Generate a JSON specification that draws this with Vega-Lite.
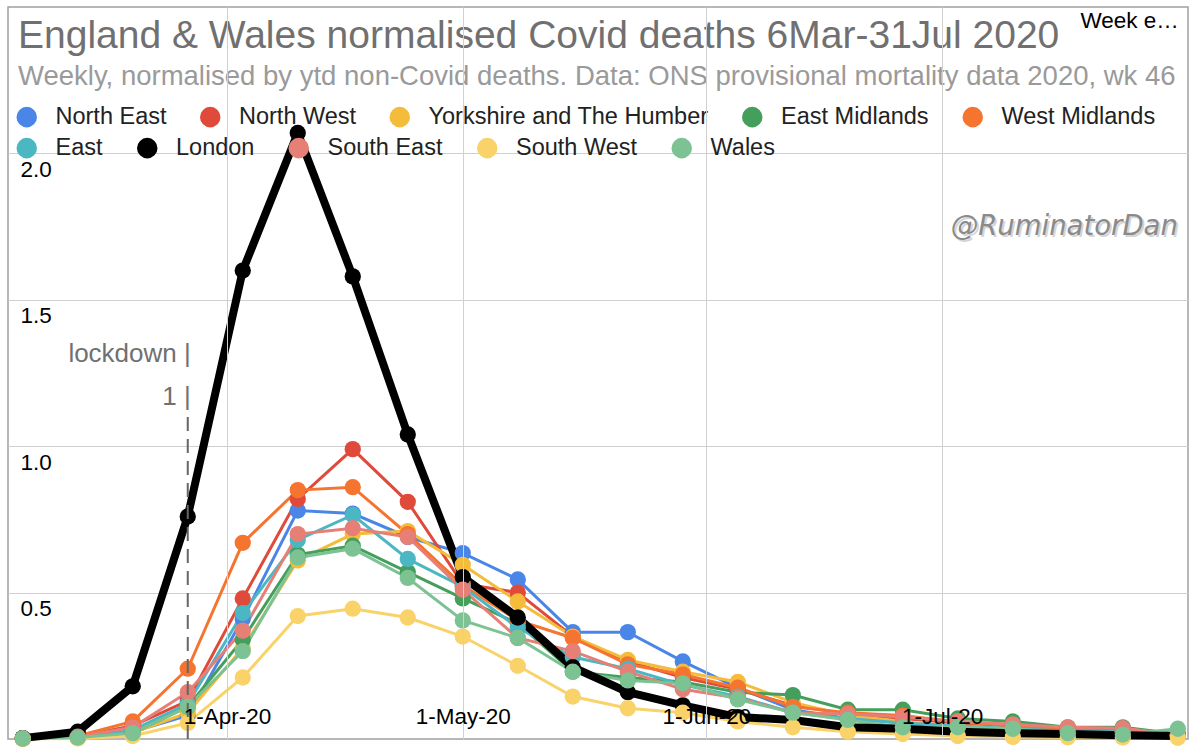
{
  "$schema": "https://vega.github.io/schema/vega-lite/v6.json",
  "width": 1180,
  "height": 732,
  "autosize": "none",
  "padding": {"left": 8, "top": 7, "right": 12, "bottom": 8},
  "background": "white",
  "config": {
    "font": "Liberation Sans",
    "view": {"stroke": "#a0a0a0", "strokeWidth": 1.5},
    "axis": {"gridColor": "#d0d0d0", "gridWidth": 1, "domain": false, "ticks": false, "tickSize": 0}
  },
  "title": {
    "text": "England & Wales normalised Covid deaths 6Mar-31Jul 2020",
    "subtitle": "Weekly, normalised by ytd non-Covid deaths. Data: ONS provisional mortality data 2020, wk 46",
    "anchor": "start",
    "frame": "group",
    "offset": -83,
    "dx": 10,
    "fontSize": 39,
    "fontWeight": "normal",
    "color": "#707070",
    "subtitleFontSize": 27.5,
    "subtitleColor": "#9a9a9a",
    "subtitlePadding": 7
  },
  "data": {
    "values": [
      {"region":"North East","week":"2020-03-06","value":0.002},{"region":"North East","week":"2020-03-13","value":0.005},{"region":"North East","week":"2020-03-20","value":0.025},{"region":"North East","week":"2020-03-27","value":0.08},{"region":"North East","week":"2020-04-03","value":0.41},{"region":"North East","week":"2020-04-10","value":0.78},{"region":"North East","week":"2020-04-17","value":0.77},{"region":"North East","week":"2020-04-24","value":0.69},{"region":"North East","week":"2020-05-01","value":0.635},{"region":"North East","week":"2020-05-08","value":0.545},{"region":"North East","week":"2020-05-15","value":0.365},{"region":"North East","week":"2020-05-22","value":0.365},{"region":"North East","week":"2020-05-29","value":0.265},{"region":"North East","week":"2020-06-05","value":0.175},{"region":"North East","week":"2020-06-12","value":0.1},{"region":"North East","week":"2020-06-19","value":0.07},{"region":"North East","week":"2020-06-26","value":0.055},{"region":"North East","week":"2020-07-03","value":0.04},{"region":"North East","week":"2020-07-10","value":0.035},{"region":"North East","week":"2020-07-17","value":0.027},{"region":"North East","week":"2020-07-24","value":0.025},{"region":"North East","week":"2020-07-31","value":0.012},
      {"region":"North West","week":"2020-03-06","value":0.002},{"region":"North West","week":"2020-03-13","value":0.008},{"region":"North West","week":"2020-03-20","value":0.045},{"region":"North West","week":"2020-03-27","value":0.13},{"region":"North West","week":"2020-04-03","value":0.48},{"region":"North West","week":"2020-04-10","value":0.82},{"region":"North West","week":"2020-04-17","value":0.99},{"region":"North West","week":"2020-04-24","value":0.81},{"region":"North West","week":"2020-05-01","value":0.53},{"region":"North West","week":"2020-05-08","value":0.5},{"region":"North West","week":"2020-05-15","value":0.35},{"region":"North West","week":"2020-05-22","value":0.265},{"region":"North West","week":"2020-05-29","value":0.21},{"region":"North West","week":"2020-06-05","value":0.17},{"region":"North West","week":"2020-06-12","value":0.115},{"region":"North West","week":"2020-06-19","value":0.085},{"region":"North West","week":"2020-06-26","value":0.07},{"region":"North West","week":"2020-07-03","value":0.055},{"region":"North West","week":"2020-07-10","value":0.045},{"region":"North West","week":"2020-07-17","value":0.035},{"region":"North West","week":"2020-07-24","value":0.03},{"region":"North West","week":"2020-07-31","value":0.012},
      {"region":"Yorkshire and The Humber","week":"2020-03-06","value":0.002},{"region":"Yorkshire and The Humber","week":"2020-03-13","value":0.005},{"region":"Yorkshire and The Humber","week":"2020-03-20","value":0.02},{"region":"Yorkshire and The Humber","week":"2020-03-27","value":0.09},{"region":"Yorkshire and The Humber","week":"2020-04-03","value":0.31},{"region":"Yorkshire and The Humber","week":"2020-04-10","value":0.61},{"region":"Yorkshire and The Humber","week":"2020-04-17","value":0.7},{"region":"Yorkshire and The Humber","week":"2020-04-24","value":0.71},{"region":"Yorkshire and The Humber","week":"2020-05-01","value":0.595},{"region":"Yorkshire and The Humber","week":"2020-05-08","value":0.47},{"region":"Yorkshire and The Humber","week":"2020-05-15","value":0.35},{"region":"Yorkshire and The Humber","week":"2020-05-22","value":0.27},{"region":"Yorkshire and The Humber","week":"2020-05-29","value":0.23},{"region":"Yorkshire and The Humber","week":"2020-06-05","value":0.195},{"region":"Yorkshire and The Humber","week":"2020-06-12","value":0.125},{"region":"Yorkshire and The Humber","week":"2020-06-19","value":0.08},{"region":"Yorkshire and The Humber","week":"2020-06-26","value":0.06},{"region":"Yorkshire and The Humber","week":"2020-07-03","value":0.04},{"region":"Yorkshire and The Humber","week":"2020-07-10","value":0.035},{"region":"Yorkshire and The Humber","week":"2020-07-17","value":0.027},{"region":"Yorkshire and The Humber","week":"2020-07-24","value":0.025},{"region":"Yorkshire and The Humber","week":"2020-07-31","value":0.01},
      {"region":"East Midlands","week":"2020-03-06","value":0.002},{"region":"East Midlands","week":"2020-03-13","value":0.005},{"region":"East Midlands","week":"2020-03-20","value":0.02},{"region":"East Midlands","week":"2020-03-27","value":0.11},{"region":"East Midlands","week":"2020-04-03","value":0.34},{"region":"East Midlands","week":"2020-04-10","value":0.63},{"region":"East Midlands","week":"2020-04-17","value":0.66},{"region":"East Midlands","week":"2020-04-24","value":0.57},{"region":"East Midlands","week":"2020-05-01","value":0.48},{"region":"East Midlands","week":"2020-05-08","value":0.395},{"region":"East Midlands","week":"2020-05-15","value":0.23},{"region":"East Midlands","week":"2020-05-22","value":0.21},{"region":"East Midlands","week":"2020-05-29","value":0.195},{"region":"East Midlands","week":"2020-06-05","value":0.16},{"region":"East Midlands","week":"2020-06-12","value":0.15},{"region":"East Midlands","week":"2020-06-19","value":0.1},{"region":"East Midlands","week":"2020-06-26","value":0.1},{"region":"East Midlands","week":"2020-07-03","value":0.07},{"region":"East Midlands","week":"2020-07-10","value":0.06},{"region":"East Midlands","week":"2020-07-17","value":0.04},{"region":"East Midlands","week":"2020-07-24","value":0.04},{"region":"East Midlands","week":"2020-07-31","value":0.017},
      {"region":"West Midlands","week":"2020-03-06","value":0.002},{"region":"West Midlands","week":"2020-03-13","value":0.01},{"region":"West Midlands","week":"2020-03-20","value":0.06},{"region":"West Midlands","week":"2020-03-27","value":0.24},{"region":"West Midlands","week":"2020-04-03","value":0.67},{"region":"West Midlands","week":"2020-04-10","value":0.85},{"region":"West Midlands","week":"2020-04-17","value":0.86},{"region":"West Midlands","week":"2020-04-24","value":0.7},{"region":"West Midlands","week":"2020-05-01","value":0.525},{"region":"West Midlands","week":"2020-05-08","value":0.405},{"region":"West Midlands","week":"2020-05-15","value":0.345},{"region":"West Midlands","week":"2020-05-22","value":0.255},{"region":"West Midlands","week":"2020-05-29","value":0.22},{"region":"West Midlands","week":"2020-06-05","value":0.175},{"region":"West Midlands","week":"2020-06-12","value":0.11},{"region":"West Midlands","week":"2020-06-19","value":0.09},{"region":"West Midlands","week":"2020-06-26","value":0.08},{"region":"West Midlands","week":"2020-07-03","value":0.058},{"region":"West Midlands","week":"2020-07-10","value":0.045},{"region":"West Midlands","week":"2020-07-17","value":0.03},{"region":"West Midlands","week":"2020-07-24","value":0.027},{"region":"West Midlands","week":"2020-07-31","value":0.012},
      {"region":"East","week":"2020-03-06","value":0.002},{"region":"East","week":"2020-03-13","value":0.005},{"region":"East","week":"2020-03-20","value":0.03},{"region":"East","week":"2020-03-27","value":0.12},{"region":"East","week":"2020-04-03","value":0.43},{"region":"East","week":"2020-04-10","value":0.68},{"region":"East","week":"2020-04-17","value":0.765},{"region":"East","week":"2020-04-24","value":0.615},{"region":"East","week":"2020-05-01","value":0.52},{"region":"East","week":"2020-05-08","value":0.38},{"region":"East","week":"2020-05-15","value":0.28},{"region":"East","week":"2020-05-22","value":0.24},{"region":"East","week":"2020-05-29","value":0.185},{"region":"East","week":"2020-06-05","value":0.145},{"region":"East","week":"2020-06-12","value":0.09},{"region":"East","week":"2020-06-19","value":0.07},{"region":"East","week":"2020-06-26","value":0.055},{"region":"East","week":"2020-07-03","value":0.045},{"region":"East","week":"2020-07-10","value":0.035},{"region":"East","week":"2020-07-17","value":0.027},{"region":"East","week":"2020-07-24","value":0.025},{"region":"East","week":"2020-07-31","value":0.012},
      {"region":"London","week":"2020-03-06","value":0.003},{"region":"London","week":"2020-03-13","value":0.025},{"region":"London","week":"2020-03-20","value":0.18},{"region":"London","week":"2020-03-27","value":0.76},{"region":"London","week":"2020-04-03","value":1.6},{"region":"London","week":"2020-04-10","value":2.07},{"region":"London","week":"2020-04-17","value":1.58},{"region":"London","week":"2020-04-24","value":1.04},{"region":"London","week":"2020-05-01","value":0.553},{"region":"London","week":"2020-05-08","value":0.415},{"region":"London","week":"2020-05-15","value":0.245},{"region":"London","week":"2020-05-22","value":0.16},{"region":"London","week":"2020-05-29","value":0.115},{"region":"London","week":"2020-06-05","value":0.075},{"region":"London","week":"2020-06-12","value":0.065},{"region":"London","week":"2020-06-19","value":0.04},{"region":"London","week":"2020-06-26","value":0.035},{"region":"London","week":"2020-07-03","value":0.025},{"region":"London","week":"2020-07-10","value":0.02},{"region":"London","week":"2020-07-17","value":0.017},{"region":"London","week":"2020-07-24","value":0.013},{"region":"London","week":"2020-07-31","value":0.01},
      {"region":"South East","week":"2020-03-06","value":0.002},{"region":"South East","week":"2020-03-13","value":0.008},{"region":"South East","week":"2020-03-20","value":0.04},{"region":"South East","week":"2020-03-27","value":0.16},{"region":"South East","week":"2020-04-03","value":0.37},{"region":"South East","week":"2020-04-10","value":0.7},{"region":"South East","week":"2020-04-17","value":0.72},{"region":"South East","week":"2020-04-24","value":0.69},{"region":"South East","week":"2020-05-01","value":0.51},{"region":"South East","week":"2020-05-08","value":0.345},{"region":"South East","week":"2020-05-15","value":0.3},{"region":"South East","week":"2020-05-22","value":0.23},{"region":"South East","week":"2020-05-29","value":0.17},{"region":"South East","week":"2020-06-05","value":0.14},{"region":"South East","week":"2020-06-12","value":0.09},{"region":"South East","week":"2020-06-19","value":0.085},{"region":"South East","week":"2020-06-26","value":0.075},{"region":"South East","week":"2020-07-03","value":0.06},{"region":"South East","week":"2020-07-10","value":0.05},{"region":"South East","week":"2020-07-17","value":0.04},{"region":"South East","week":"2020-07-24","value":0.037},{"region":"South East","week":"2020-07-31","value":0.015},
      {"region":"South West","week":"2020-03-06","value":0.001},{"region":"South West","week":"2020-03-13","value":0.002},{"region":"South West","week":"2020-03-20","value":0.01},{"region":"South West","week":"2020-03-27","value":0.055},{"region":"South West","week":"2020-04-03","value":0.21},{"region":"South West","week":"2020-04-10","value":0.42},{"region":"South West","week":"2020-04-17","value":0.445},{"region":"South West","week":"2020-04-24","value":0.415},{"region":"South West","week":"2020-05-01","value":0.35},{"region":"South West","week":"2020-05-08","value":0.25},{"region":"South West","week":"2020-05-15","value":0.145},{"region":"South West","week":"2020-05-22","value":0.105},{"region":"South West","week":"2020-05-29","value":0.09},{"region":"South West","week":"2020-06-05","value":0.06},{"region":"South West","week":"2020-06-12","value":0.04},{"region":"South West","week":"2020-06-19","value":0.025},{"region":"South West","week":"2020-06-26","value":0.017},{"region":"South West","week":"2020-07-03","value":0.01},{"region":"South West","week":"2020-07-10","value":0.007},{"region":"South West","week":"2020-07-17","value":0.006},{"region":"South West","week":"2020-07-24","value":0.005},{"region":"South West","week":"2020-07-31","value":0.004},
      {"region":"Wales","week":"2020-03-06","value":0.002},{"region":"Wales","week":"2020-03-13","value":0.005},{"region":"Wales","week":"2020-03-20","value":0.02},{"region":"Wales","week":"2020-03-27","value":0.11},{"region":"Wales","week":"2020-04-03","value":0.3},{"region":"Wales","week":"2020-04-10","value":0.62},{"region":"Wales","week":"2020-04-17","value":0.65},{"region":"Wales","week":"2020-04-24","value":0.55},{"region":"Wales","week":"2020-05-01","value":0.405},{"region":"Wales","week":"2020-05-08","value":0.345},{"region":"Wales","week":"2020-05-15","value":0.23},{"region":"Wales","week":"2020-05-22","value":0.2},{"region":"Wales","week":"2020-05-29","value":0.19},{"region":"Wales","week":"2020-06-05","value":0.135},{"region":"Wales","week":"2020-06-12","value":0.09},{"region":"Wales","week":"2020-06-19","value":0.065},{"region":"Wales","week":"2020-06-26","value":0.04},{"region":"Wales","week":"2020-07-03","value":0.04},{"region":"Wales","week":"2020-07-10","value":0.035},{"region":"Wales","week":"2020-07-17","value":0.02},{"region":"Wales","week":"2020-07-24","value":0.015},{"region":"Wales","week":"2020-07-31","value":0.035}
    ]
  },
  "encoding": {
    "x": {
      "field": "week",
      "type": "temporal",
      "scale": {
        "type": "utc",
        "domain": [
          {"year": 2020, "month": 3, "date": 4, "hours": 3, "utc": true},
          {"year": 2020, "month": 8, "date": 1, "hours": 7, "utc": true}
        ]
      },
      "axis": {
        "values": [
          {"year": 2020, "month": 4, "date": 1, "utc": true},
          {"year": 2020, "month": 5, "date": 1, "utc": true},
          {"year": 2020, "month": 6, "date": 1, "utc": true},
          {"year": 2020, "month": 7, "date": 1, "utc": true}
        ],
        "format": "%-d-%b-%y",
        "labelPadding": -23,
        "labelBaseline": "middle",
        "labelFontSize": 22.5,
        "labelColor": "#000000",
        "labelFlush": false,
        "labelOverlap": false,
        "zindex": 1,
        "title": "Week ending",
        "titleLimit": 106,
        "titleX": 1072,
        "titleY": -712,
        "titleAlign": "left",
        "titleBaseline": "alphabetic",
        "titleFontSize": 22.5,
        "titleFontWeight": "normal",
        "titleColor": "#000000"
      }
    },
    "y": {
      "field": "value",
      "type": "quantitative",
      "scale": {"domain": [0, 2.5], "nice": false},
      "axis": {
        "values": [0.5, 1, 1.5, 2],
        "format": ".1f",
        "labelAlign": "left",
        "labelPadding": -12,
        "labelBaseline": "alphabetic",
        "labelOffset": 23,
        "labelFontSize": 22.5,
        "labelColor": "#000000",
        "labelFlush": false,
        "title": null
      }
    }
  },
  "layer": [
    {
      "transform": [{"filter": "datum.region !== 'London'"}],
      "mark": {"type": "line", "strokeWidth": 3},
      "encoding": {
        "stroke": {
          "field": "region",
          "type": "nominal",
          "scale": {
            "domain": ["East", "London", "South East", "South West", "Wales", "North East", "North West", "Yorkshire and The Humber", "East Midlands", "West Midlands"],
            "range": ["#4BB7C2", "#000000", "#E67F76", "#F9D26A", "#7CC293", "#4A86E8", "#DF4A3A", "#F5BB3A", "#449E5C", "#F57430"]
          },
          "legend": {
            "orient": "none",
            "legendX": 7,
            "legendY": 129,
            "direction": "horizontal",
            "columns": 5,
            "values": ["East", "London", "South East", "South West", "Wales"],
            "title": null,
            "symbolType": "circle",
            "symbolSize": 420,
            "symbolStrokeWidth": 0,
            "symbolOpacity": 1,
            "labelFontSize": 23.5,
            "labelColor": "#222222",
            "labelOffset": 17,
            "labelLimit": 400,
            "columnPadding": 32.5,
            "padding": 0,
            "encode": {
              "symbols": {
                "update": {
                  "fill": {"scale": "stroke", "field": "value"},
                  "fillOpacity": {"value": 1},
                  "strokeWidth": {"value": 0}
                }
              }
            }
          }
        }
      }
    },
    {
      "transform": [{"filter": "datum.region === 'London'"}],
      "mark": {"type": "line", "strokeWidth": 8, "strokeJoin": "round"},
      "encoding": {
        "stroke": {"field": "region", "type": "nominal"}
      }
    },
    {
      "mark": {"type": "point", "filled": true, "size": 265, "opacity": 1, "shape": "circle", "strokeWidth": 0},
      "encoding": {
        "fill": {
          "field": "region",
          "type": "nominal",
          "scale": {
            "domain": ["North East", "North West", "Yorkshire and The Humber", "East Midlands", "West Midlands", "East", "London", "South East", "South West", "Wales"],
            "range": ["#4A86E8", "#DF4A3A", "#F5BB3A", "#449E5C", "#F57430", "#4BB7C2", "#000000", "#E67F76", "#F9D26A", "#7CC293"]
          },
          "legend": {
            "orient": "none",
            "legendX": 7,
            "legendY": 98,
            "direction": "horizontal",
            "columns": 5,
            "values": ["North East", "North West", "Yorkshire and The Humber", "East Midlands", "West Midlands"],
            "title": null,
            "symbolType": "circle",
            "symbolSize": 420,
            "symbolStrokeWidth": 0,
            "symbolOpacity": 1,
            "labelFontSize": 23.5,
            "labelColor": "#222222",
            "labelOffset": 17,
            "labelLimit": 400,
            "columnPadding": 31.5,
            "padding": 0
          }
        }
      }
    },
    {
      "transform": [{"filter": "datum.region === 'London' && datum.value === 0.76"}],
      "mark": {"type": "rule", "strokeDash": [14, 8], "strokeWidth": 2, "color": "#666666"},
      "encoding": {
        "y": {"datum": 0},
        "y2": {"datum": 1.1}
      }
    },
    {
      "transform": [{"filter": "datum.region === 'London' && datum.value === 0.76"}],
      "mark": {"type": "text", "align": "right", "baseline": "alphabetic", "fontSize": 26, "lineHeight": 43, "dx": 3, "color": "#707070"},
      "encoding": {
        "y": {"datum": 1.288},
        "text": {"value": ["lockdown |", "1 |"]}
      }
    },
    {
      "transform": [{"filter": "datum.region === 'London' && datum.value === 0.76"}],
      "mark": {"type": "text", "align": "right", "baseline": "alphabetic", "font": "DejaVu Sans", "fontStyle": "italic", "fontSize": 27.5, "dx": 2, "dy": 2, "opacity": 0.22, "color": "#444444"},
      "encoding": {
        "x": {"datum": {"year": 2020, "month": 7, "date": 31, "utc": true}, "type": "temporal"},
        "y": {"datum": 1.72},
        "text": {"value": "@RuminatorDan"}
      }
    },
    {
      "transform": [{"filter": "datum.region === 'London' && datum.value === 0.76"}],
      "mark": {"type": "text", "align": "right", "baseline": "alphabetic", "font": "DejaVu Sans", "fontStyle": "italic", "fontSize": 27.5, "color": "#8a8a8a"},
      "encoding": {
        "x": {"datum": {"year": 2020, "month": 7, "date": 31, "utc": true}, "type": "temporal"},
        "y": {"datum": 1.72},
        "text": {"value": "@RuminatorDan"}
      }
    }
  ]
}
